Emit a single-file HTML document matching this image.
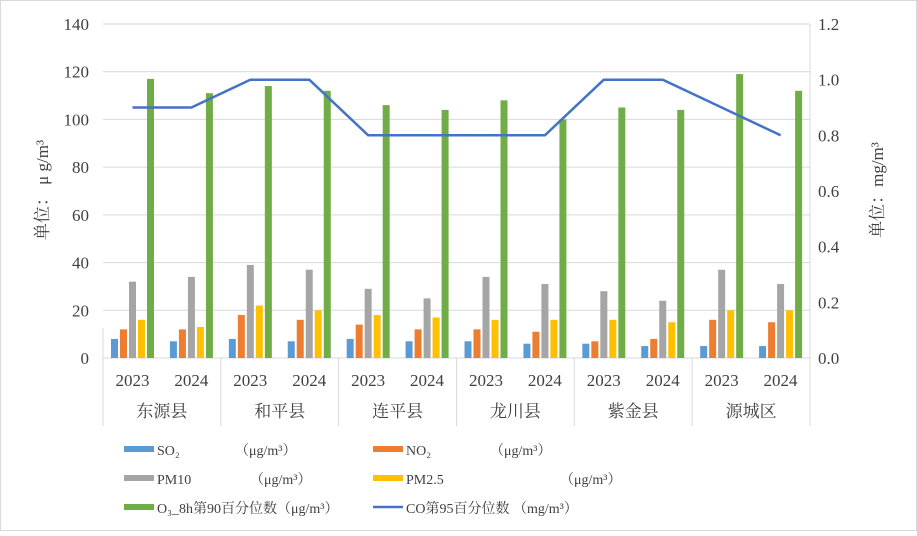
<!DOCTYPE html>
<html><head><meta charset="utf-8"><style>
html,body{margin:0;padding:0;background:#fff}
text{font-family:"Liberation Serif","Noto Serif CJK SC",serif;fill:#404040}
</style></head><body>
<svg width="917" height="531" xmlns="http://www.w3.org/2000/svg">
<rect x="0.5" y="0.5" width="916" height="530" fill="#fff" stroke="#d9d9d9"/>
<g id="grid" stroke="#d9d9d9" stroke-width="1"></g>
<g id="bars"></g>
<g id="labels" font-size="17"></g>
<polyline id="co" fill="none" stroke="#4472c4" stroke-width="2.5" stroke-linejoin="round"/>
<text x="0" y="0" font-size="17" transform="translate(48,190) rotate(-90)" text-anchor="middle">单位：  μ g/m³</text>
<text x="0" y="0" font-size="17" transform="translate(883,190) rotate(-90)" text-anchor="middle">单位：mg/m³</text>
<g font-size="14">
<rect x="124" y="446" width="30" height="6" fill="#5b9bd5"/><text x="157" y="455">SO₂</text><text x="235" y="455">（μg/m³）</text>
<rect x="373" y="446" width="30" height="6" fill="#ed7d31"/><text x="406" y="455">NO₂</text><text x="490" y="455">（μg/m³）</text>
<rect x="124" y="475" width="30" height="6" fill="#a5a5a5"/><text x="157" y="484">PM10</text><text x="250" y="484">（μg/m³）</text>
<rect x="373" y="475" width="30" height="6" fill="#ffc000"/><text x="406" y="484">PM2.5</text><text x="560" y="484">（μg/m³）</text>
<rect x="124" y="504" width="30" height="6" fill="#70ad47"/><text x="157" y="513">O₃_8h第90百分位数（μg/m³）</text>
<line x1="373" y1="507" x2="403" y2="507" stroke="#4472c4" stroke-width="2.5"/><text x="406" y="513">CO第95百分位数 （mg/m³）</text>
</g>
</svg>
<script>
const ns="http://www.w3.org/2000/svg";
function el(p,t,a,txt){const e=document.createElementNS(ns,t);for(const k in a)e.setAttribute(k,a[k]);if(txt!==undefined)e.textContent=txt;document.getElementById(p).appendChild(e);return e;}
const x0=103,x1=810,y0=358,ytop=24,H=y0-ytop;
const yv=v=>y0-v/140*H;
for(let v=0;v<=140;v+=20){el("grid","line",{x1:x0,x2:x1,y1:yv(v),y2:yv(v)});
el("labels","text",{x:89,y:yv(v)+6,"text-anchor":"end"},v);}
for(let i=0;i<=6;i++){const y=y0-i*0.2/1.2*H;el("labels","text",{x:818,y:y+6},(i*0.2).toFixed(1));}
const d=[[8,12,32,16,117],[7,12,34,13,111],[8,18,39,22,114],[7,16,37,20,112],[8,14,29,18,106],[7,12,25,17,104],[7,12,34,16,108],[6,11,31,16,100],[6,7,28,16,105],[5,8,24,15,104],[5,16,37,20,119],[5,15,31,20,112]];
const co=[0.9,0.9,1,1,0.8,0.8,0.8,0.8,1,1,0.9,0.8];
const cols=["#5b9bd5","#ed7d31","#a5a5a5","#ffc000","#70ad47"];
const gw=(x1-x0)/12;const pts=[];
d.forEach((r,i)=>{const gs=x0+i*gw;r.forEach((v,j)=>{el("bars","rect",{x:gs+8+j*9,y:yv(v),width:7,height:y0-yv(v),fill:cols[j]});});
pts.push((gs+29.5).toFixed(1)+","+(y0-co[i]/1.2*H).toFixed(1));
el("labels","text",{x:gs+gw/2,y:386,"text-anchor":"middle"},i%2?"2024":"2023");});
document.getElementById("co").setAttribute("points",pts.join(" "));
const names=["东源县","和平县","连平县","龙川县","紫金县","源城区"];
for(let k=0;k<=6;k++){const x=x0+k*2*gw;el("grid","line",{x1:x,x2:x,y1:y0,y2:426});
if(k<6)el("labels","text",{x:x+gw,y:417,"text-anchor":"middle"},names[k]);}
el("grid","line",{x1:x0,x2:x1,y1:y0,y2:y0});
el("grid","line",{x1:x1,x2:x1,y1:ytop,y2:y0});
el("grid","line",{x1:x0,x2:x0,y1:y0-30,y2:y0});
</script>
</body></html>
